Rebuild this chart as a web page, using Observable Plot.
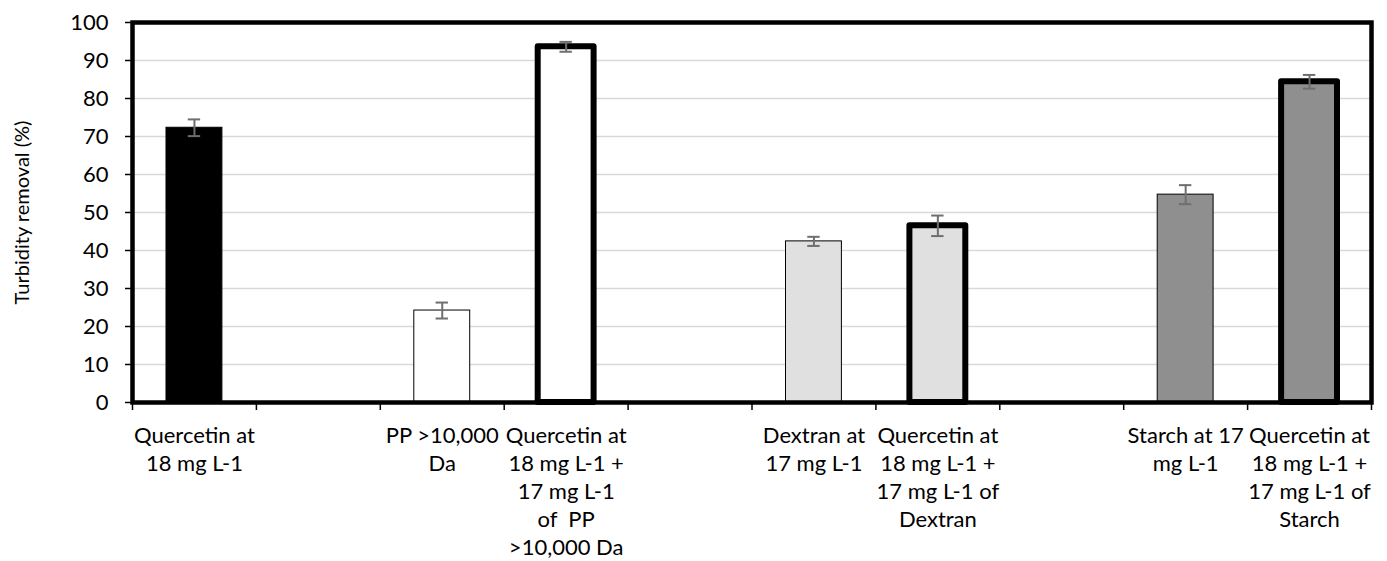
<!DOCTYPE html>
<html><head><meta charset="utf-8">
<script src="https://cdn.jsdelivr.net/npm/d3@7"></script>
<script src="https://cdn.jsdelivr.net/npm/@observablehq/plot@0.6"></script>
<style>
html,body{margin:0;padding:0;background:#fff;}
#chart svg{display:block;}
</style></head><body><div id="chart"></div>
<script>
// ---- data ----
const categories = [
  "Quercetin at\n18 mg L-1",
  "",
  "PP >10,000\nDa",
  "Quercetin at\n18 mg L-1 +\n17 mg L-1\nof  PP\n>10,000 Da",
  "",
  "Dextran at\n17 mg L-1",
  "Quercetin at\n18 mg L-1 +\n17 mg L-1 of\nDextran",
  "",
  "Starch at 17\nmg L-1",
  "Quercetin at\n18 mg L-1 +\n17 mg L-1 of\nStarch"
];
const removal = [72.3, null, 24.2, 93.6, null, 42.4, 46.5, null, 54.7, 84.4];
const errors  = [2.2, null, 2.1, 1.3, null, 1.2, 2.7, null, 2.5, 1.8];
const agent   = ["Quercetin", null, "PP", "PP", null, "Dextran", "Dextran", null, "Starch", "Starch"];
const withQuercetin = [false, false, false, true, false, false, true, false, false, true];
const yTicks = [0, 10, 20, 30, 40, 50, 60, 70, 80, 90, 100];
const yTitle = "Turbidity removal (%)";

// ---- derived table ----
const rows = categories.map((label, i) => ({
  i, label, value: removal[i], err: errors[i], agent: agent[i], combo: withQuercetin[i]
}));
const bars = rows.filter(d => d.value != null);
const caps = bars.flatMap(d => [
  {i: d.i, y: d.value - d.err},
  {i: d.i, y: d.value + d.err}
]);

const FONT = "Lato, 'Open Sans', sans-serif";

const chart = Plot.plot({
  width: 1387,
  height: 561,
  marginTop: 22,
  marginRight: 16,
  marginBottom: 159,
  marginLeft: 132,
  style: {fontFamily: FONT, fontSize: "22px", color: "#000", background: "#fff"},
  x: {domain: [0, categories.length]},
  y: {domain: [0, 100]},
  color: {
    domain: ["Quercetin", "PP", "Dextran", "Starch"],
    range: ["#000000", "#ffffff", "#e0e0e0", "#8f8f8f"]
  },
  marks: [
    Plot.ruleY(yTicks.filter(t => t > 0 && t < 100), {stroke: "#d9d9d9", strokeWidth: 1.5}),
    Plot.rect(bars.filter(d => !d.combo), {
      x1: d => d.i, x2: d => d.i + 1, y1: 0, y2: "value",
      fill: "agent", stroke: "#000", strokeWidth: 1,
      insetLeft: 34, insetRight: 34
    }),
    Plot.rect(bars.filter(d => d.combo), {
      x1: d => d.i, x2: d => d.i + 1, y1: 0, y2: "value",
      fill: "agent", stroke: "#000", strokeWidth: 6, strokeLinejoin: "round",
      insetLeft: 34, insetRight: 34
    }),
    Plot.ruleX(bars, {
      x: d => d.i + 0.5, y1: d => d.value - d.err, y2: d => d.value + d.err,
      stroke: "#6f6f6f", strokeWidth: 2
    }),
    Plot.ruleY(caps, {
      y: "y", x1: d => d.i + 0.45, x2: d => d.i + 0.55,
      stroke: "#6f6f6f", strokeWidth: 2
    }),
    Plot.frame({stroke: "#000", strokeWidth: 4.5}),
    Plot.axisY({
      ticks: yTicks, tickSize: 7, tickPadding: 17, fontSize: 22,
      label: null, stroke: "#000", strokeWidth: 1.5
    }),
    Plot.axisX({
      ticks: d3.range(0, categories.length + 1), tickSize: 8,
      tickFormat: () => "", label: null, strokeWidth: 1.5
    }),
    Plot.text(rows, {
      x: d => d.i + 0.5, y: 0, text: "label",
      lineAnchor: "top", dy: 21, fontSize: 22, lineHeight: 1.27, fill: "#000"
    }),
    Plot.text([yTitle], {
      frameAnchor: "left", text: d => d, rotate: -90, dx: -110,
      textAnchor: "middle", fontSize: 20, fill: "#000"
    })
  ]
});
document.getElementById("chart").appendChild(chart);
</script>
</body></html>
